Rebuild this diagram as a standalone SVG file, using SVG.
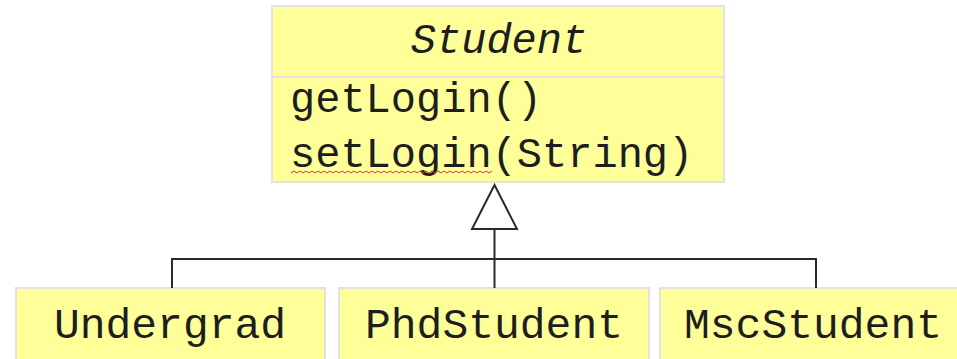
<svg xmlns="http://www.w3.org/2000/svg" width="957" height="359" viewBox="0 0 957 359">
<style>
.box{fill:#ffff99;stroke:#e2e2e2;stroke-width:2}
.t{font-family:"Liberation Mono","Courier New",monospace;font-size:42px;fill:#1e1e1e}
.b{font-size:43px}
.c{fill:none;stroke:#2a2a2a;stroke-width:2}
</style>
<rect width="957" height="359" fill="#ffffff"/>
<g id="student">
<rect class="box" x="272" y="6" width="452" height="176"/>
<line x1="272" y1="77" x2="724" y2="77" stroke="#e2e2e2" stroke-width="2"/>
<text class="t" x="499" y="53" text-anchor="middle" font-style="italic">Student</text>
<text class="t" x="290" y="112">getLogin()</text>
<text class="t" x="290" y="167">setLogin(String)</text>
<path d="M291 173 l3 -2 l3 2 l3 -2 l3 2 l3 -2 l3 2 l3 -2 l3 2 l3 -2 l3 2 l3 -2 l3 2 l3 -2 l3 2 l3 -2 l3 2 l3 -2 l3 2 l3 -2 l3 2 l3 -2 l3 2 l3 -2 l3 2 l3 -2 l3 2 l3 -2 l3 2 l3 -2 l3 2 l3 -2 l3 2 l3 -2 l3 2 l3 -2 l3 2 l3 -2 l3 2 l3 -2 l3 2 l3 -2 l3 2 l3 -2 l3 2 l3 -2 l3 2 l3 -2 l3 2 l3 -2 l3 2 l3 -2 l3 2 l3 -2 l3 2 l3 -2 l3 2 l3 -2 l3 2 l3 -2 l3 2 l3 -2 l3 2 l3 -2 l3 2 l3 -2 l3 2 l3 -2" fill="none" stroke="#e03030" stroke-width="1"/>
</g>
<g id="undergrad">
<rect class="box" x="16" y="288" width="309" height="80"/>
<text class="t b" x="170" y="338" text-anchor="middle">Undergrad</text>
</g>
<g id="phdstudent">
<rect class="box" x="339" y="288" width="310" height="80"/>
<text class="t b" x="494" y="338" text-anchor="middle">PhdStudent</text>
</g>
<g id="mscstudent">
<rect class="box" x="660" y="288" width="310" height="80"/>
<text class="t b" x="813" y="338" text-anchor="middle">MscStudent</text>
</g>
<g id="connectors">
<polyline class="c" points="172,288 172,259 816,259 816,288"/>
<line class="c" x1="494.5" y1="288" x2="494.5" y2="229"/>
<polygon class="c" points="494.5,185 472,229 517,229" fill="#ffffff"/>
</g>
</svg>
